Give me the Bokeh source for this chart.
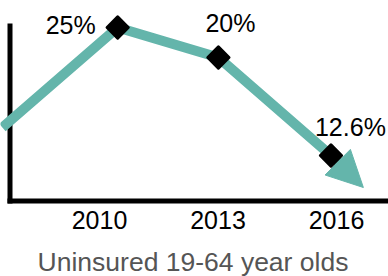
import numpy as np
from bokeh.plotting import figure
from bokeh.models import Range1d, Arrow, NormalHead, ColumnDataSource
from bokeh.core.properties import value
from bokeh.embed import file_html
from bokeh.resources import INLINE

# ---- data ----
tick_years = [2010, 2013, 2016]
tick_labels = ["2010", "2013", "2016"]
# trend line (x in years, y = drawn height of the line above the baseline)
line_x = [2007.54, 2010.46, 2013.01, 2015.86]
line_y = [73.5, 173.5, 143.5, 45.5]
# arrow continuation beyond the last point
arrow_end_x = 2016.68
arrow_end_y = 13.5
# labelled points
point_x = [2010.46, 2013.01, 2015.86]
point_y = [173.5, 143.5, 45.5]
point_labels = ["25%", "20%", "12.6%"]
title_text = "Uninsured 19-64 year olds"

TEAL = "#64b5ab"
FONT = "Liberation Sans"
W, H = 388, 276

# plot area covers the whole canvas; baseline (y=0) sits 75.5 px above the bottom
PPY = 39.5                      # pixels per year
X0 = 2010 - 99 / PPY
X1 = X0 + W / PPY
Y0, Y1 = -75.5, 200.5


def xs(px):
    """screen x (px from left) -> x data"""
    return X0 + px / PPY


p = figure(width=W, height=H, output_backend="svg", toolbar_location=None,
           x_range=Range1d(X0, X1), y_range=Range1d(Y0, Y1),
           min_border=0)
p.axis.visible = False
p.outline_line_color = None
p.grid.visible = False
p.background_fill_color = "white"
p.border_fill_color = "white"

# axis lines
p.segment(x0=[xs(9.5)], y0=[177.5], x1=[xs(9.5)], y1=[-2.5],
          line_color="black", line_width=5)
p.segment(x0=[xs(7)], y0=[0], x1=[X1], y1=[0],
          line_color="black", line_width=5)

# x tick labels
p.text(x=tick_years, y=[0] * len(tick_years), text=tick_labels, y_offset=18.5,
       text_font=value(FONT), text_font_size="25px", text_color="black",
       text_align="center", text_baseline="alphabetic")

# title under the axis
p.text(x=[xs(192.5)], y=[0], text=[title_text], y_offset=60.5,
       text_font=value(FONT), text_font_size="26.5px", text_color="#555555",
       text_align="center", text_baseline="alphabetic")

# trend line
p.line(line_x, line_y, line_color=TEAL, line_width=10, line_join="round")
p.add_layout(Arrow(end=NormalHead(size=36, fill_color=TEAL, line_color=TEAL, line_width=1),
                   x_start=line_x[-1], y_start=line_y[-1],
                   x_end=arrow_end_x, y_end=arrow_end_y,
                   line_color=TEAL, line_width=10, level="underlay"))

# markers
p.scatter(point_x, point_y, marker="square", angle=np.pi / 4, size=15,
          fill_color="black", line_color="black", line_width=3, line_join="round")

# value labels
src = ColumnDataSource(dict(x=point_x, y=point_y, t=point_labels,
                            dx=[-72, -13, -16], dy=[-3, -35, -29]))
p.text(x="x", y="y", text="t", source=src, x_offset="dx", y_offset="dy",
       text_font=value(FONT), text_font_size="25px", text_color="black",
       text_align="left", text_baseline="alphabetic")

open("out.html", "w").write(file_html(p, INLINE))
